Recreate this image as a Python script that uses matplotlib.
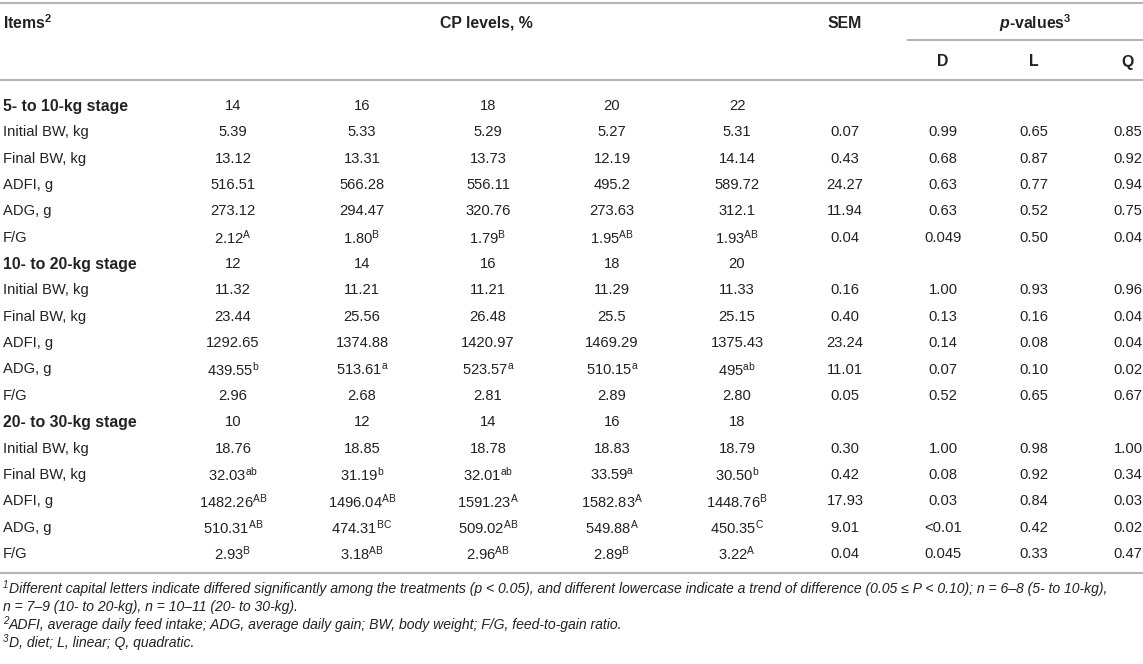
import numpy as np
import matplotlib
matplotlib.use("Agg")
import matplotlib.pyplot as plt

plt.rcParams['font.family'] = ['Liberation Sans', 'DejaVu Sans']
plt.rcParams['mathtext.fontset'] = 'custom'
plt.rcParams['mathtext.rm'] = 'Liberation Sans'
plt.rcParams['mathtext.it'] = 'Liberation Sans:italic'
plt.rcParams['mathtext.bf'] = 'Liberation Sans:bold'
plt.rcParams['mathtext.bfit'] = 'Liberation Sans:italic:bold'

# ---- datos de la tabla ----
stage_names = ["5- to 10-kg stage", "10- to 20-kg stage", "20- to 30-kg stage"]
cp_levels = [[14, 16, 18, 20, 22], [12, 14, 16, 18, 20], [10, 12, 14, 16, 18]]
items = ["Initial BW, kg", "Final BW, kg", "ADFI, g", "ADG, g", "F/G"]

# valores por etapa: 5 niveles de PB, SEM, D, L, Q
stage1_vals = [
    ["5.39", "5.33", "5.29", "5.27", "5.31", "0.07", "0.99", "0.65", "0.85"],
    ["13.12", "13.31", "13.73", "12.19", "14.14", "0.43", "0.68", "0.87", "0.92"],
    ["516.51", "566.28", "556.11", "495.2", "589.72", "24.27", "0.63", "0.77", "0.94"],
    ["273.12", "294.47", "320.76", "273.63", "312.1", "11.94", "0.63", "0.52", "0.75"],
    ["2.12", "1.80", "1.79", "1.95", "1.93", "0.04", "0.049", "0.50", "0.04"],
]
stage1_sup = [
    ["", "", "", "", ""],
    ["", "", "", "", ""],
    ["", "", "", "", ""],
    ["", "", "", "", ""],
    ["A", "B", "B", "AB", "AB"],
]
stage2_vals = [
    ["11.32", "11.21", "11.21", "11.29", "11.33", "0.16", "1.00", "0.93", "0.96"],
    ["23.44", "25.56", "26.48", "25.5", "25.15", "0.40", "0.13", "0.16", "0.04"],
    ["1292.65", "1374.88", "1420.97", "1469.29", "1375.43", "23.24", "0.14", "0.08", "0.04"],
    ["439.55", "513.61", "523.57", "510.15", "495", "11.01", "0.07", "0.10", "0.02"],
    ["2.96", "2.68", "2.81", "2.89", "2.80", "0.05", "0.52", "0.65", "0.67"],
]
stage2_sup = [
    ["", "", "", "", ""],
    ["", "", "", "", ""],
    ["", "", "", "", ""],
    ["b", "a", "a", "a", "ab"],
    ["", "", "", "", ""],
]
stage3_vals = [
    ["18.76", "18.85", "18.78", "18.83", "18.79", "0.30", "1.00", "0.98", "1.00"],
    ["32.03", "31.19", "32.01", "33.59", "30.50", "0.42", "0.08", "0.92", "0.34"],
    ["1482.26", "1496.04", "1591.23", "1582.83", "1448.76", "17.93", "0.03", "0.84", "0.03"],
    ["510.31", "474.31", "509.02", "549.88", "450.35", "9.01", "<0.01", "0.42", "0.02"],
    ["2.93", "3.18", "2.96", "2.89", "3.22", "0.04", "0.045", "0.33", "0.47"],
]
stage3_sup = [
    ["", "", "", "", ""],
    ["ab", "b", "ab", "a", "b"],
    ["AB", "AB", "A", "A", "B"],
    ["AB", "BC", "AB", "A", "C"],
    ["B", "AB", "AB", "B", "A"],
]

foot_marks = ["1", "", "2", "3"]
footnotes = [
    "Different capital letters indicate differed significantly among the treatments (p < 0.05), "
    "and different lowercase indicate a trend of difference (0.05 ≤ P < 0.10); n = 6–8 (5- to 10-kg),",
    "n = 7–9 (10- to 20-kg), n = 10–11 (20- to 30-kg).",
    "ADFI, average daily feed intake; ADG, average daily gain; BW, body weight; F/G, feed-to-gain ratio.",
    "D, diet; L, linear; Q, quadratic.",
]

# ---- disposicion (pixeles) ----
W, H = 1143, 664
col_x = [233, 362, 488, 612, 737, 845, 943, 1034, 1128]
row0 = 106
row_h = 26.35
txt = "#222222"
linec = "#b5b5b5"
fs = 10.6
fs_b = 11.4

fig = plt.figure(figsize=(W / 100, H / 100), dpi=100)
ax = fig.add_axes([0, 0, 1, 1])
ax.set_xlim(0, W)
ax.set_ylim(H, 0)
ax.axis('off')

# lineas horizontales
ax.plot([0, W], [3, 3], color=linec, lw=1.5)
ax.plot([908, W], [40, 40], color=linec, lw=1.5)
ax.plot([0, W], [80, 80], color=linec, lw=1.5)
ax.plot([0, W], [573, 573], color=linec, lw=1.5)

# encabezado
ax.text(3, 23, r"Items$^{\mathbf{2}}$", fontsize=fs_b, fontweight='bold', color=txt, va='center')
ax.text(np.mean(col_x[:5]), 23, "CP levels, %", fontsize=fs_b, fontweight='bold', color=txt,
        va='center', ha='center')
ax.text(col_x[5], 23, "SEM", fontsize=fs_b, fontweight='bold', color=txt, va='center', ha='center')
ax.text(np.mean(col_x[6:]), 23, r"$\mathbfit{p}$-values$^{\mathbf{3}}$", fontsize=fs_b,
        fontweight='bold', color=txt, va='center', ha='center')
for x, lab in zip(col_x[6:], ["D", "L", "Q"]):
    ax.text(x, 62, lab, fontsize=fs_b, fontweight='bold', color=txt, va='center', ha='center')

# cuerpo
all_vals = [stage1_vals, stage2_vals, stage3_vals]
all_sups = [stage1_sup, stage2_sup, stage3_sup]
r = 0
for s in range(3):
    y = row0 + r * row_h
    ax.text(3, y, stage_names[s], fontsize=fs_b, fontweight='bold', color=txt, va='center')
    for j, lvl in enumerate(cp_levels[s]):
        ax.text(col_x[j], y, str(lvl), fontsize=fs, color=txt, va='center', ha='center')
    r += 1
    for i, it in enumerate(items):
        y = row0 + r * row_h
        ax.text(3, y, it, fontsize=fs, color=txt, va='center')
        for j, v in enumerate(all_vals[s][i]):
            label = v
            if j < 5 and all_sups[s][i][j]:
                label = v + r"$^{\mathrm{" + all_sups[s][i][j] + "}}$"
            ax.text(col_x[j], y, label, fontsize=fs, color=txt, va='center', ha='center')
        r += 1

# notas al pie
foot_y = [589, 607, 625, 643]
for fy, mk, ft in zip(foot_y, foot_marks, footnotes):
    x0 = 3
    if mk:
        ax.text(x0, fy - 4, mk, fontsize=7, fontstyle='italic', color=txt, va='center')
        x0 = 9
    ax.text(x0, fy, ft, fontsize=10.1, fontstyle='italic', color=txt, va='center')

fig.savefig("out.png", dpi=100)
